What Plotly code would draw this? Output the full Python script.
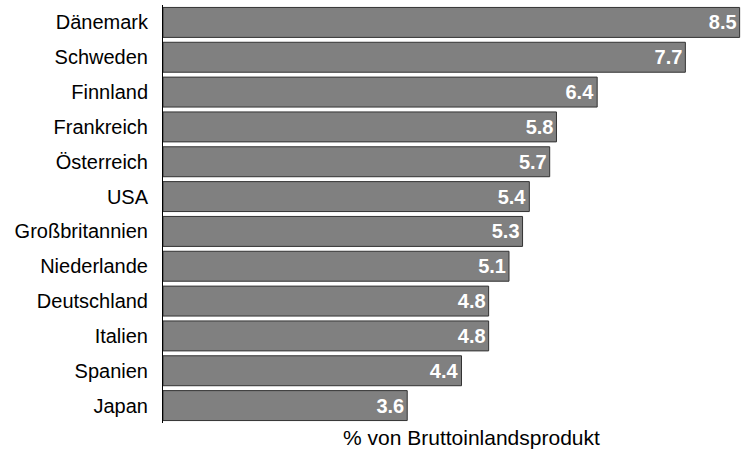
import plotly.graph_objects as go

countries = ["Dänemark", "Schweden", "Finnland", "Frankreich", "Österreich", "USA",
             "Großbritannien", "Niederlande", "Deutschland", "Italien", "Spanien", "Japan"]
values = [8.5, 7.7, 6.4, 5.8, 5.7, 5.4, 5.3, 5.1, 4.8, 4.8, 4.4, 3.6]
labels = ["8.5", "7.7", "6.4", "5.8", "5.7", "5.4", "5.3", "5.1", "4.8", "4.8", "4.4", "3.6"]
x_title = "% von Bruttoinlandsprodukt"

FONT = "Liberation Sans, Arial, sans-serif"

fig = go.Figure(go.Bar(
    x=values, y=countries, orientation="h",
    text=labels, textposition="inside", insidetextanchor="end",
    textfont=dict(family=FONT, size=20, color="white", weight="bold"),
    marker=dict(color="#808080", line=dict(color="#333333", width=1)),
    width=0.86, cliponaxis=False,
))
fig.update_layout(
    width=741, height=452,
    margin=dict(l=163, r=0, t=5, b=29, autoexpand=False),
    plot_bgcolor="white", paper_bgcolor="white",
    showlegend=False,
    font=dict(family=FONT, size=20, color="black"),
    uniformtext=dict(minsize=20, mode="show"),
    annotations=[dict(text=x_title, xref="paper", yref="paper", x=0.533, y=0,
                      yshift=-14, xanchor="center", yanchor="middle", showarrow=False,
                      font=dict(family=FONT, size=21, color="black"))],
)
fig.update_xaxes(range=[0, 8.52], showgrid=False, zeroline=False, showticklabels=False,
                 showline=False, ticks="", automargin=False)
fig.update_yaxes(autorange="reversed", showgrid=False, showline=True, linecolor="black",
                 linewidth=1, ticks="", ticklabelstandoff=10, automargin=False)
fig.write_html("out.html", config={"displayModeBar": False},
               post_script="document.body.style.margin='0';")
